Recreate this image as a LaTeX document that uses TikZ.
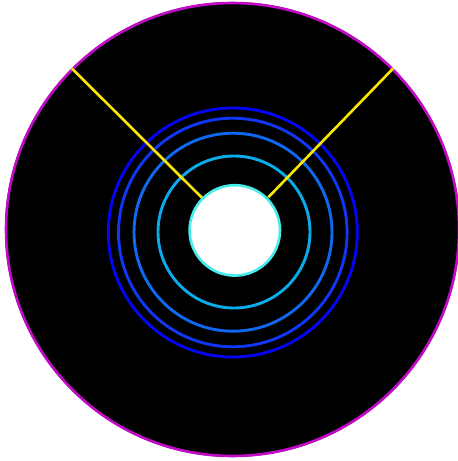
\documentclass[tikz,border=0pt]{standalone}
\begin{document}
\begin{tikzpicture}[x=1pt,y=-1pt,
  ring/.style={line width=2.9pt},
  ray/.style={draw=yellow!95!red,line width=2.6pt}]
\definecolor{ringA}{RGB}{5,5,245}
\definecolor{ringB}{RGB}{15,55,245}
\definecolor{ringC}{RGB}{15,105,240}
\definecolor{ringD}{RGB}{10,170,235}
\definecolor{rim}{RGB}{195,10,200}
\definecolor{hole}{RGB}{70,235,235}
\useasboundingbox (0,0) rectangle (458,461);
\fill[black] (232.5,229.5) circle (227.5);
\draw[rim,line width=2.6pt] (232.5,229.5) circle (226.5);
\draw[ring,ringA] (232.8,232.5) circle (124.5);
\draw[ring,ringB] (232.8,232.5) circle (114.3);
\draw[ring,ringC] (233,232.2) circle (99);
\draw[ring,ringD] (234,232) circle (76);
\coordinate (l0) at (71.7,68.3);
\coordinate (l1) at (202.5,198.3);
\coordinate (r0) at (393.3,68.3);
\coordinate (r1) at (268.3,197.3);
\draw[ray] (l0) -- (l1);
\draw[ray] (r0) -- (r1);
\draw[fill=white,draw=hole,line width=2.6pt] (234.8,230.4) circle (45.2);
\end{tikzpicture}
\end{document}
